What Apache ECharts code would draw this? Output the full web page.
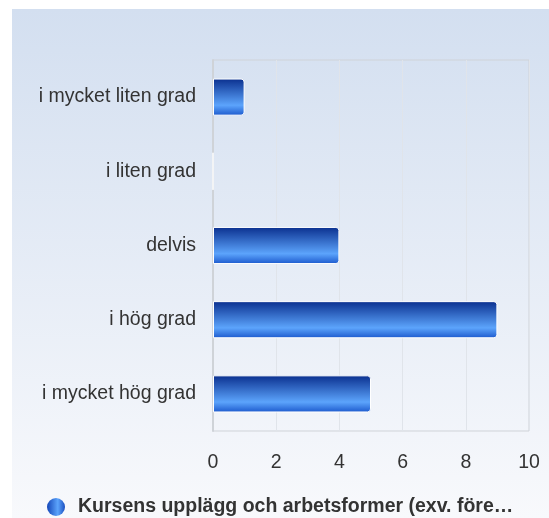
<!DOCTYPE html>
<html>
<head>
<meta charset="utf-8">
<script src="https://cdn.jsdelivr.net/npm/echarts@6/dist/echarts.min.js"></script>
<style>
  html, body { margin: 0; padding: 0; background: #fff; }
  #chart { width: 549px; height: 518px; }
</style>
</head>
<body>
<div id="chart"></div>
<script>
var categories = ['i mycket liten grad', 'i liten grad', 'delvis', 'i hög grad', 'i mycket hög grad'];
var values = [1, 0, 4, 9, 5];
var seriesName = 'Kursens upplägg och arbetsformer (exv. föreläsningar, seminarier, grupparbeten, laborationer)';

var barColor = new echarts.graphic.LinearGradient(0, 0, 0, 1, [
  { offset: 0, color: '#0a2f8e' },
  { offset: 0.72, color: '#5ca4fc' },
  { offset: 1, color: '#1b58cc' }
]);

var myChart = echarts.init(document.getElementById('chart'));
var option = {
  animation: false,
  graphic: [{
    type: 'rect',
    z: -10,
    shape: { x: 12, y: 9, width: 537, height: 509 },
    style: {
      fill: new echarts.graphic.LinearGradient(0, 0, 0, 1, [
        { offset: 0, color: '#d3dff0' },
        { offset: 1, color: '#f8f9fc' }
      ])
    }
  }],
  grid: {
    left: 213,
    right: 20,
    top: 60,
    bottom: 87,
    show: true,
    borderColor: '#cfd3d8',
    borderWidth: 1,
    backgroundColor: 'transparent'
  },
  legend: {
    top: 497,
    left: 47,
    padding: 0,
    icon: 'circle',
    itemWidth: 18,
    itemHeight: 18,
    itemGap: 6,
    itemStyle: {
      color: new echarts.graphic.LinearGradient(0, 0, 1, 0, [
        { offset: 0, color: '#1446b8' },
        { offset: 0.6, color: '#5ca4fc' },
        { offset: 1, color: '#1b4fc0' }
      ]),
      borderWidth: 0
    },
    textStyle: {
      fontFamily: 'Liberation Sans, Arial, sans-serif',
      fontSize: 19.5,
      fontWeight: 'bold',
      color: '#333',
      padding: [0, 0, 0, 8],
      width: 447,
      overflow: 'truncate',
      ellipsis: '…'
    },
    data: [seriesName]
  },
  xAxis: {
    type: 'value',
    min: 0,
    max: 10,
    interval: 2,
    axisLine: { show: false },
    axisTick: { show: false },
    axisLabel: {
      margin: 22,
      fontFamily: 'Liberation Sans, Arial, sans-serif',
      fontSize: 19.5,
      color: '#333'
    },
    splitLine: { lineStyle: { color: '#e0e4ea', width: 1 } }
  },
  yAxis: {
    type: 'category',
    inverse: true,
    data: categories,
    axisLine: { show: true, lineStyle: { color: '#cfd3d8', width: 2 } },
    axisTick: { show: false },
    axisLabel: {
      margin: 17,
      fontFamily: 'Liberation Sans, Arial, sans-serif',
      fontSize: 19.5,
      color: '#333'
    },
    splitLine: { show: false }
  },
  series: [{
    name: seriesName,
    type: 'bar',
    data: values,
    barWidth: '50%',
    itemStyle: {
      color: barColor,
      borderColor: '#ffffff',
      borderWidth: 1,
      borderRadius: [0, 3, 3, 0]
    }
  }]
};
myChart.setOption(option);
</script>
</body>
</html>
